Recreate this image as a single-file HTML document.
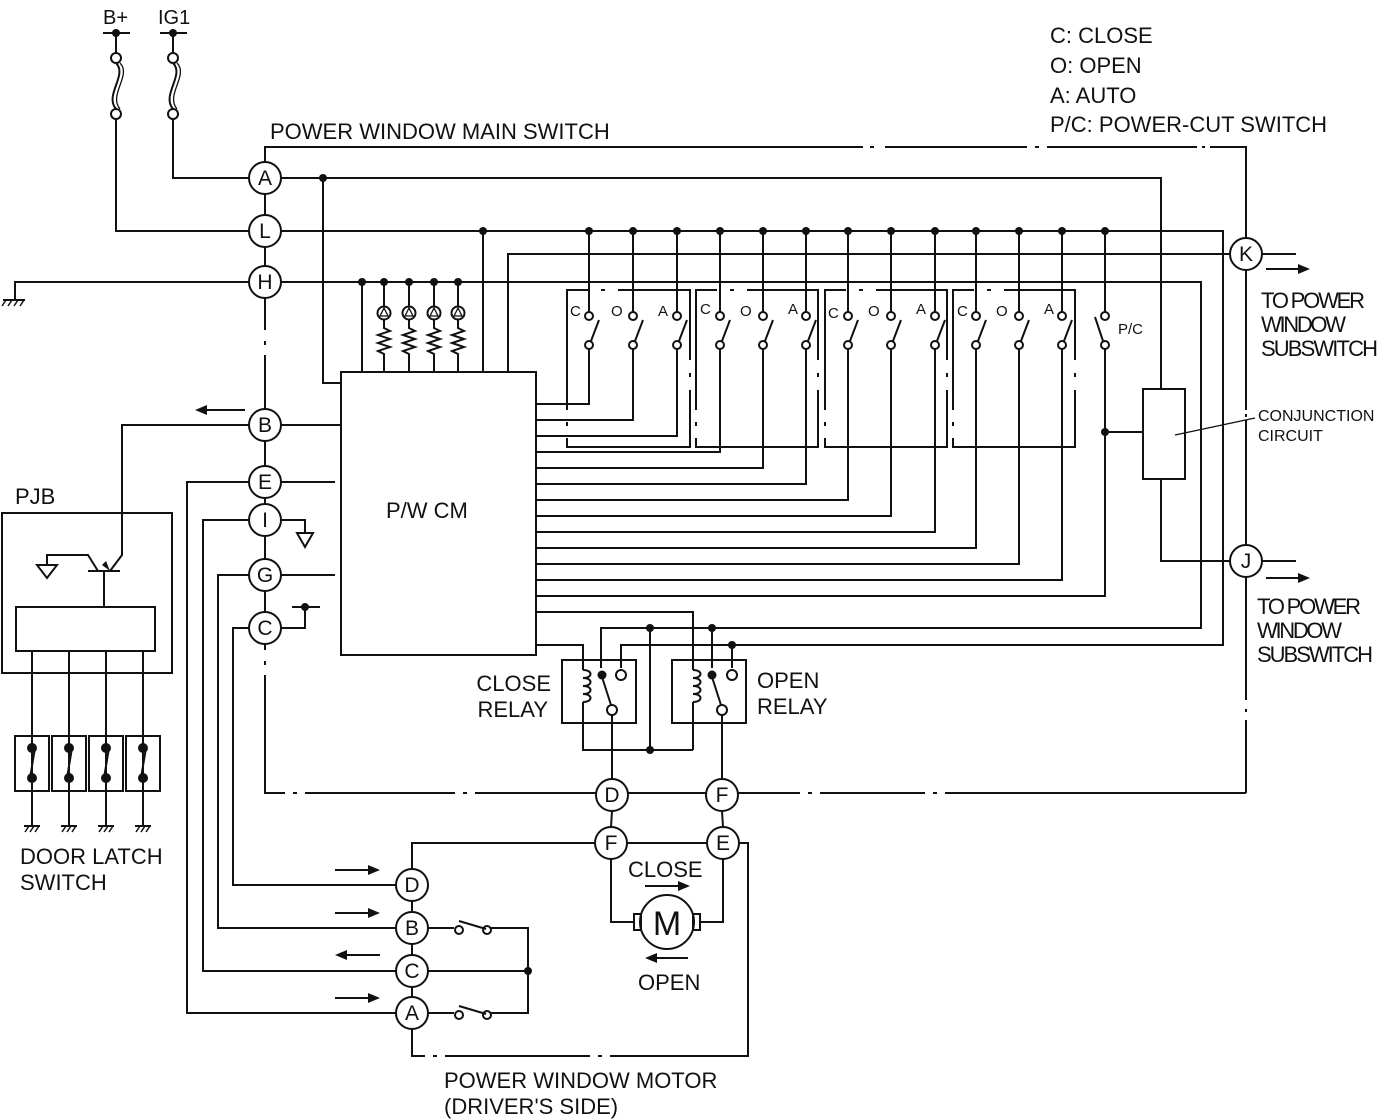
<!DOCTYPE html>
<html><head><meta charset="utf-8"><style>
html,body{margin:0;padding:0;background:#fff;}
svg{display:block;}
text{font-family:"Liberation Sans",sans-serif;fill:#111;}
</style></head><body>
<svg width="1385" height="1120" viewBox="0 0 1385 1120" xmlns="http://www.w3.org/2000/svg">
<g stroke="#111" stroke-width="2" fill="none">
<line x1="103" y1="33" x2="130" y2="33"/><line x1="160" y1="33" x2="187" y2="33"/>
<line x1="116" y1="33" x2="116" y2="54"/><line x1="173" y1="33" x2="173" y2="54"/>
<circle cx="116" cy="58" r="5"/><circle cx="116" cy="114" r="5"/>
<circle cx="173" cy="58" r="5"/><circle cx="173" cy="114" r="5"/>
<path d="M116 63 C128 75,104 95,116 109"/><path d="M120 63 C132 75,108 95,120 109" stroke-width="1.3"/>
<path d="M173 63 C185 75,161 95,173 109"/><path d="M177 63 C189 75,165 95,177 109" stroke-width="1.3"/>
<polyline points="116,119 116,231 249,231"/>
<polyline points="173,119 173,178 249,178"/>
<polyline points="265,162 265,147 863,147"/><line x1="885" y1="147" x2="1027" y2="147"/><line x1="1047" y1="147" x2="1197" y2="147"/><polyline points="1210,147 1246,147 1246,238"/>
<line x1="1246" y1="270" x2="1246" y2="410"/><line x1="1246" y1="420" x2="1246" y2="545"/>
<line x1="1246" y1="577" x2="1246" y2="700"/><line x1="1246" y1="720" x2="1246" y2="793"/>
<line x1="265" y1="194" x2="265" y2="215"/><line x1="265" y1="247" x2="265" y2="266"/>
<line x1="265" y1="298" x2="265" y2="330"/><line x1="265" y1="355" x2="265" y2="409"/>
<line x1="265" y1="441" x2="265" y2="466"/><line x1="265" y1="498" x2="265" y2="504"/>
<line x1="265" y1="536" x2="265" y2="559"/><line x1="265" y1="591" x2="265" y2="612"/>
<line x1="265" y1="644" x2="265" y2="650"/><polyline points="265,675 265,793 285,793"/>
<line x1="305" y1="793" x2="455" y2="793"/><line x1="475" y1="793" x2="596" y2="793"/>
<line x1="628" y1="793" x2="706" y2="793"/><line x1="738" y1="793" x2="800" y2="793"/>
<line x1="820" y1="793" x2="925" y2="793"/><line x1="945" y1="793" x2="1246" y2="793"/>
<polyline points="249,282 15,282 15,300"/>
<polyline points="281,178 1161,178 1161,389"/>
<polyline points="323,178 323,383 341,383"/>
<polyline points="281,231 1223,231 1223,645 621,645 621,668"/>
<line x1="483" y1="231" x2="483" y2="372"/>
<polyline points="508,372 508,254 1230,254"/><line x1="1262" y1="254" x2="1296" y2="254"/>
<line x1="1266" y1="269" x2="1300" y2="269"/>
<polyline points="281,282 1201,282 1201,628 601,628 601,668"/>
<line x1="362" y1="282" x2="362" y2="372"/>
<rect x="341" y="372" width="195" height="283"/>
<rect x="567" y="290" width="123" height="157"/><rect x="696" y="290" width="122" height="157"/>
<rect x="825" y="290" width="122" height="157"/><rect x="953" y="290" width="122" height="157"/>
<rect x="1143" y="389" width="42" height="90"/>
<polyline points="1161,479 1161,561 1230,561"/><line x1="1262" y1="561" x2="1296" y2="561"/>
<line x1="1266" y1="578" x2="1300" y2="578"/>
<line x1="1105" y1="432" x2="1143" y2="432"/>
<line x1="1175" y1="435" x2="1255" y2="418" stroke-width="1.3"/>
<rect x="562" y="660" width="74" height="63"/><rect x="672" y="660" width="74" height="63"/>
<polyline points="536,645 583,645 583,670"/><path d="M583 670 c10 0,10 8,0 8 c10 0,10 8,0 8 c10 0,10 8,0 8 c10 0,10 8,0 8"/><polyline points="583,702 583,750 693,750"/>
<polyline points="536,612 693,612 693,670"/><path d="M693 670 c10 0,10 8,0 8 c10 0,10 8,0 8 c10 0,10 8,0 8 c10 0,10 8,0 8"/><line x1="693" y1="702" x2="693" y2="750"/>
<line x1="650" y1="628" x2="650" y2="750"/>
<polyline points="712,628 712,668"/><polyline points="732,645 732,668"/>
<circle cx="621" cy="675" r="5"/><circle cx="612" cy="710" r="5"/><line x1="602" y1="677" x2="611" y2="705"/>
<circle cx="732" cy="675" r="5"/><circle cx="722" cy="710" r="5"/><line x1="712" y1="677" x2="721" y2="705"/>
<line x1="612" y1="715" x2="612" y2="779"/><line x1="722" y1="715" x2="722" y2="779"/>
<line x1="612" y1="811" x2="611" y2="827"/><line x1="722" y1="811" x2="723" y2="827"/>
<polyline points="249,425 122,425 122,555 110,571"/><line x1="88" y1="571" x2="120" y2="571"/><line x1="104" y1="571" x2="104" y2="607"/>
<polyline points="98,571 88,555 47,555 47,565"/>
<line x1="281" y1="425" x2="341" y2="425"/>
<line x1="281" y1="482" x2="335" y2="482"/><line x1="281" y1="575" x2="335" y2="575"/>
<polyline points="249,482 187,482 187,1013 396,1013"/>
<polyline points="249,520 203,520 203,971 396,971"/>
<polyline points="249,575 218,575 218,928 396,928"/>
<polyline points="249,628 233,628 233,885 396,885"/>
<polyline points="281,520 305,520 305,533"/>
<polyline points="281,628 305,628 305,607"/><line x1="292" y1="607" x2="320" y2="607"/>
<rect x="2" y="513" width="170" height="160"/><rect x="16" y="607" width="139" height="44"/>
<polyline points="412,869 412,843 595,843"/>
<line x1="412" y1="901" x2="412" y2="912"/><line x1="412" y1="944" x2="412" y2="955"/><line x1="412" y1="987" x2="412" y2="997"/>
<polyline points="412,1029 412,1056 425,1056"/><line x1="445" y1="1056" x2="590" y2="1056"/><polyline points="610,1056 748,1056 748,843 739,843"/>
<polyline points="428,928 454,928"/><circle cx="459" cy="930" r="4"/><circle cx="487" cy="930" r="4"/><line x1="459" y1="921" x2="486" y2="929"/><polyline points="491,928 528,928 528,1013 491,1013"/>
<line x1="428" y1="971" x2="528" y2="971"/>
<polyline points="428,1013 454,1013"/><circle cx="459" cy="1015" r="4"/><circle cx="487" cy="1015" r="4"/><line x1="459" y1="1006" x2="486" y2="1014"/>
<line x1="627" y1="843" x2="707" y2="843"/>
<polyline points="611,859 611,922 634,922"/><polyline points="700,922 723,922 723,859"/>
<circle cx="667" cy="922" r="27"/><rect x="634" y="914" width="7" height="16"/><rect x="693" y="914" width="7" height="16"/>
<line x1="645" y1="886" x2="680" y2="886"/><line x1="655" y1="958" x2="688" y2="958"/>
</g>
<g fill="#fff">
<rect x="588" y="287" width="30" height="6"/><rect x="717" y="287" width="30" height="6"/><rect x="846" y="287" width="30" height="6"/><rect x="974" y="287" width="30" height="6"/>
<rect x="687" y="360" width="6" height="30"/><rect x="815" y="360" width="6" height="30"/><rect x="944" y="360" width="6" height="30"/><rect x="1072" y="360" width="6" height="30"/>
<rect x="564" y="410" width="6" height="28"/><rect x="693" y="410" width="6" height="28"/><rect x="822" y="410" width="6" height="28"/><rect x="950" y="410" width="6" height="28"/>
</g>
<g fill="#111">
<rect x="601" y="289" width="4" height="2"/><rect x="730" y="289" width="4" height="2"/><rect x="859" y="289" width="4" height="2"/><rect x="987" y="289" width="4" height="2"/>
<rect x="689" y="373" width="2" height="4"/><rect x="817" y="373" width="2" height="4"/><rect x="946" y="373" width="2" height="4"/><rect x="1074" y="373" width="2" height="4"/>
<rect x="566" y="422" width="2" height="4"/><rect x="695" y="422" width="2" height="4"/><rect x="824" y="422" width="2" height="4"/><rect x="952" y="422" width="2" height="4"/>
<rect x="870" y="146" width="4" height="2"/><rect x="1035" y="146" width="4" height="2"/><rect x="1202" y="146" width="3" height="2"/>
<rect x="1245" y="414" width="2" height="3"/><rect x="1245" y="709" width="2" height="3"/><rect x="264" y="341" width="2" height="4"/><rect x="264" y="661" width="2" height="4"/>
<rect x="293" y="792" width="4" height="2"/><rect x="463" y="792" width="4" height="2"/><rect x="808" y="792" width="4" height="2"/><rect x="933" y="792" width="4" height="2"/>
<rect x="433" y="1055" width="4" height="2"/><rect x="598" y="1055" width="4" height="2"/>
<polygon points="1310,269 1298,264 1298,274"/><polygon points="1310,578 1298,573 1298,583"/>
<polygon points="195,410 207,405 207,415"/><line x1="205" y1="410" x2="245" y2="410" stroke="#111" stroke-width="2"/>
<polygon points="690,886 678,881 678,891"/><polygon points="645,958 657,953 657,963"/>
<polygon points="380,870 368,865 368,875"/><line x1="335" y1="870" x2="370" y2="870" stroke="#111" stroke-width="2"/>
<polygon points="380,913 368,908 368,918"/><line x1="335" y1="913" x2="370" y2="913" stroke="#111" stroke-width="2"/>
<polygon points="335,955 347,950 347,960"/><line x1="345" y1="955" x2="380" y2="955" stroke="#111" stroke-width="2"/>
<polygon points="380,998 368,993 368,1003"/><line x1="335" y1="998" x2="370" y2="998" stroke="#111" stroke-width="2"/>
<polygon points="110,571 102,565 106,561"/>
<circle cx="116" cy="33" r="4"/><circle cx="173" cy="33" r="4"/><circle cx="323" cy="178" r="4"/><circle cx="483" cy="231" r="4"/>
<circle cx="362" cy="282" r="4"/><circle cx="384" cy="282" r="4"/><circle cx="409" cy="282" r="4"/><circle cx="434" cy="282" r="4"/><circle cx="458" cy="282" r="4"/>
<circle cx="1105" cy="432" r="4"/><circle cx="650" cy="628" r="4"/><circle cx="712" cy="628" r="4"/><circle cx="732" cy="645" r="4"/><circle cx="650" cy="750" r="4"/>
<circle cx="602" cy="675" r="4.5"/><circle cx="712" cy="675" r="4.5"/><circle cx="305" cy="607" r="4"/><circle cx="528" cy="971" r="4"/>
</g>
<g stroke="#111" stroke-width="2" fill="none">
<line x1="384" y1="282" x2="384" y2="306"/><circle cx="384" cy="313" r="6.5"/><polygon points="384,308 380,316 388,316" stroke-width="1.3"/><path d="M384 320 v8 l6 3 -12 4 12 4 -12 4 12 4 -12 4 6 3 v18"/>
<line x1="409" y1="282" x2="409" y2="306"/><circle cx="409" cy="313" r="6.5"/><polygon points="409,308 405,316 413,316" stroke-width="1.3"/><path d="M409 320 v8 l6 3 -12 4 12 4 -12 4 12 4 -12 4 6 3 v18"/>
<line x1="434" y1="282" x2="434" y2="306"/><circle cx="434" cy="313" r="6.5"/><polygon points="434,308 430,316 438,316" stroke-width="1.3"/><path d="M434 320 v8 l6 3 -12 4 12 4 -12 4 12 4 -12 4 6 3 v18"/>
<line x1="458" y1="282" x2="458" y2="306"/><circle cx="458" cy="313" r="6.5"/><polygon points="458,308 454,316 462,316" stroke-width="1.3"/><path d="M458 320 v8 l6 3 -12 4 12 4 -12 4 12 4 -12 4 6 3 v18"/>
</g>
<g stroke="#111" stroke-width="2" fill="none">
<polyline points="589,231 589,312"/><circle cx="589" cy="316" r="4"/><circle cx="589" cy="345" r="4"/><line x1="591" y1="341" x2="599" y2="320"/><polyline points="589,349 589,404 536,404"/>
<polyline points="633,231 633,312"/><circle cx="633" cy="316" r="4"/><circle cx="633" cy="345" r="4"/><line x1="635" y1="341" x2="643" y2="320"/><polyline points="633,349 633,420 536,420"/>
<polyline points="677,231 677,312"/><circle cx="677" cy="316" r="4"/><circle cx="677" cy="345" r="4"/><line x1="679" y1="341" x2="687" y2="320"/><polyline points="677,349 677,436 536,436"/>
<polyline points="720,231 720,312"/><circle cx="720" cy="316" r="4"/><circle cx="720" cy="345" r="4"/><line x1="722" y1="341" x2="730" y2="320"/><polyline points="720,349 720,452 536,452"/>
<polyline points="763,231 763,312"/><circle cx="763" cy="316" r="4"/><circle cx="763" cy="345" r="4"/><line x1="765" y1="341" x2="773" y2="320"/><polyline points="763,349 763,468 536,468"/>
<polyline points="806,231 806,312"/><circle cx="806" cy="316" r="4"/><circle cx="806" cy="345" r="4"/><line x1="808" y1="341" x2="816" y2="320"/><polyline points="806,349 806,484 536,484"/>
<polyline points="848,231 848,312"/><circle cx="848" cy="316" r="4"/><circle cx="848" cy="345" r="4"/><line x1="850" y1="341" x2="858" y2="320"/><polyline points="848,349 848,500 536,500"/>
<polyline points="891,231 891,312"/><circle cx="891" cy="316" r="4"/><circle cx="891" cy="345" r="4"/><line x1="893" y1="341" x2="901" y2="320"/><polyline points="891,349 891,516 536,516"/>
<polyline points="935,231 935,312"/><circle cx="935" cy="316" r="4"/><circle cx="935" cy="345" r="4"/><line x1="937" y1="341" x2="945" y2="320"/><polyline points="935,349 935,532 536,532"/>
<polyline points="976,231 976,312"/><circle cx="976" cy="316" r="4"/><circle cx="976" cy="345" r="4"/><line x1="978" y1="341" x2="986" y2="320"/><polyline points="976,349 976,548 536,548"/>
<polyline points="1019,231 1019,312"/><circle cx="1019" cy="316" r="4"/><circle cx="1019" cy="345" r="4"/><line x1="1021" y1="341" x2="1029" y2="320"/><polyline points="1019,349 1019,564 536,564"/>
<polyline points="1062,231 1062,312"/><circle cx="1062" cy="316" r="4"/><circle cx="1062" cy="345" r="4"/><line x1="1064" y1="341" x2="1072" y2="320"/><polyline points="1062,349 1062,580 536,580"/>
<polyline points="1105,231 1105,312"/><circle cx="1105" cy="316" r="4"/><circle cx="1105" cy="345" r="4"/><line x1="1103" y1="341" x2="1095" y2="317"/><polyline points="1105,349 1105,596 536,596"/>
<line x1="3" y1="300" x2="25" y2="300"/>
<polygon points="297,533 313,533 305,547"/><polygon points="37,565 57,565 47,578"/>
</g>
<g fill="#111">
<circle cx="589" cy="231" r="4"/><circle cx="633" cy="231" r="4"/><circle cx="677" cy="231" r="4"/><circle cx="720" cy="231" r="4"/><circle cx="763" cy="231" r="4"/><circle cx="806" cy="231" r="4"/><circle cx="848" cy="231" r="4"/><circle cx="891" cy="231" r="4"/><circle cx="935" cy="231" r="4"/><circle cx="976" cy="231" r="4"/><circle cx="1019" cy="231" r="4"/><circle cx="1062" cy="231" r="4"/><circle cx="1105" cy="231" r="4"/>
</g>
<g stroke="#111" stroke-width="1.5"><line x1="6" y1="300" x2="2" y2="306"/><line x1="12" y1="300" x2="8" y2="306"/><line x1="18" y1="300" x2="14" y2="306"/><line x1="24" y1="300" x2="20" y2="306"/>
<line x1="29" y1="826" x2="25" y2="832"/><line x1="34" y1="826" x2="30" y2="832"/><line x1="39" y1="826" x2="35" y2="832"/>
<line x1="66" y1="826" x2="62" y2="832"/><line x1="71" y1="826" x2="67" y2="832"/><line x1="76" y1="826" x2="72" y2="832"/>
<line x1="103" y1="826" x2="99" y2="832"/><line x1="108" y1="826" x2="104" y2="832"/><line x1="113" y1="826" x2="109" y2="832"/>
<line x1="140" y1="826" x2="136" y2="832"/><line x1="145" y1="826" x2="141" y2="832"/><line x1="150" y1="826" x2="146" y2="832"/>
</g>
<g stroke="#111" stroke-width="2" fill="none">
<line x1="32" y1="651" x2="32" y2="826"/><rect x="15" y="736" width="34" height="55"/><line x1="35" y1="748" x2="30" y2="778"/>
<line x1="69" y1="651" x2="69" y2="826"/><rect x="52" y="736" width="34" height="55"/><line x1="72" y1="748" x2="67" y2="778"/>
<line x1="106" y1="651" x2="106" y2="826"/><rect x="89" y="736" width="34" height="55"/><line x1="109" y1="748" x2="104" y2="778"/>
<line x1="143" y1="651" x2="143" y2="826"/><rect x="126" y="736" width="34" height="55"/><line x1="146" y1="748" x2="141" y2="778"/>
<line x1="24" y1="826" x2="40" y2="826"/><line x1="61" y1="826" x2="77" y2="826"/><line x1="98" y1="826" x2="114" y2="826"/><line x1="135" y1="826" x2="151" y2="826"/>
</g>
<g fill="#111">
<circle cx="32" cy="748" r="5"/><circle cx="32" cy="778" r="5"/><circle cx="69" cy="748" r="5"/><circle cx="69" cy="778" r="5"/><circle cx="106" cy="748" r="5"/><circle cx="106" cy="778" r="5"/><circle cx="143" cy="748" r="5"/><circle cx="143" cy="778" r="5"/>
</g>
<g stroke="#111" stroke-width="2" fill="#fff">
<circle cx="265" cy="178" r="16"/><circle cx="265" cy="231" r="16"/><circle cx="265" cy="282" r="16"/><circle cx="265" cy="425" r="16"/><circle cx="265" cy="482" r="16"/><circle cx="265" cy="520" r="16"/><circle cx="265" cy="575" r="16"/><circle cx="265" cy="628" r="16"/>
<circle cx="1246" cy="254" r="16"/><circle cx="1246" cy="561" r="16"/>
<circle cx="612" cy="795" r="16"/><circle cx="722" cy="795" r="16"/><circle cx="611" cy="843" r="16"/><circle cx="723" cy="843" r="16"/>
<circle cx="412" cy="885" r="16"/><circle cx="412" cy="928" r="16"/><circle cx="412" cy="971" r="16"/><circle cx="412" cy="1013" r="16"/>
</g>
<g font-size="21" text-anchor="middle">
<text x="265" y="185">A</text><text x="265" y="238">L</text><text x="265" y="289">H</text><text x="265" y="432">B</text><text x="265" y="489">E</text><text x="265" y="527">I</text><text x="265" y="582">G</text><text x="265" y="635">C</text>
<text x="1246" y="261">K</text><text x="1246" y="568">J</text>
<text x="612" y="802">D</text><text x="722" y="802">F</text><text x="611" y="850">F</text><text x="723" y="850">E</text>
<text x="412" y="892">D</text><text x="412" y="935">B</text><text x="412" y="978">C</text><text x="412" y="1020">A</text>
<text x="667" y="935" font-size="34">M</text>
</g>
<g font-size="15">
<text x="570" y="316">C</text><text x="611" y="316">O</text><text x="658" y="316">A</text>
<text x="700" y="314">C</text><text x="740" y="316">O</text><text x="788" y="314">A</text>
<text x="828" y="318">C</text><text x="868" y="316">O</text><text x="916" y="314">A</text>
<text x="957" y="316">C</text><text x="996" y="316">O</text><text x="1044" y="314">A</text>
<text x="1118" y="334">P/C</text>
</g>
<g font-size="22">
<text x="103" y="24" font-size="20">B+</text><text x="158" y="24" font-size="20">IG1</text>
<text x="1050" y="43">C: CLOSE</text><text x="1050" y="73">O: OPEN</text><text x="1050" y="103">A: AUTO</text><text x="1050" y="132">P/C: POWER-CUT SWITCH</text>
<text x="270" y="139">POWER WINDOW MAIN SWITCH</text>
<text x="1261" y="308" textLength="104">TO POWER</text><text x="1261" y="332" textLength="85">WINDOW</text><text x="1261" y="356" textLength="117">SUBSWITCH</text>
<text x="1257" y="614" textLength="104">TO POWER</text><text x="1257" y="638" textLength="85">WINDOW</text><text x="1257" y="662" textLength="116">SUBSWITCH</text>
<text x="386" y="518">P/W CM</text>
<text x="15" y="504">PJB</text>
<text x="20" y="864">DOOR LATCH</text><text x="20" y="890">SWITCH</text>
<text x="551" y="691" text-anchor="end">CLOSE</text><text x="548" y="717" text-anchor="end">RELAY</text>
<text x="757" y="688">OPEN</text><text x="757" y="714">RELAY</text>
<text x="628" y="877">CLOSE</text><text x="638" y="990">OPEN</text>
<text x="444" y="1088">POWER WINDOW MOTOR</text><text x="444" y="1114">(DRIVER'S SIDE)</text>
</g>
<g font-size="16"><text x="1258" y="421">CONJUNCTION</text><text x="1258" y="441">CIRCUIT</text></g>
</svg>
</body></html>
